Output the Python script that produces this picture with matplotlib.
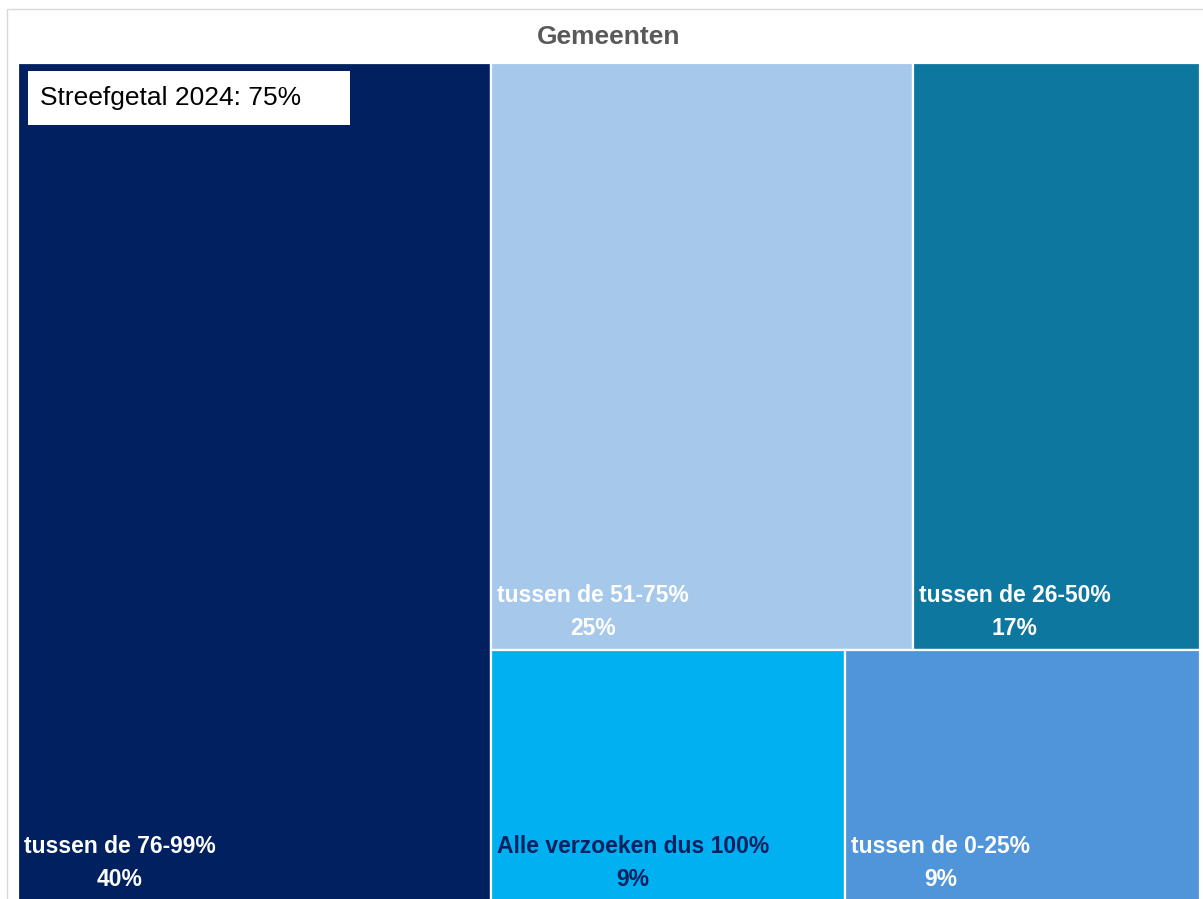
import matplotlib.pyplot as plt
from matplotlib.patches import Rectangle

# data
labels = ["tussen de 76-99%", "tussen de 51-75%", "tussen de 26-50%",
          "Alle verzoeken dus 100%", "tussen de 0-25%"]
shares = [40, 25, 17, 9, 9]
colors = ["#002060", "#A6C9EB", "#0E77A0", "#00B0F0", "#5095D9"]
text_colors = ["white", "white", "white", "#002060", "white"]
title = "Gemeenten"
note = "Streefgetal 2024: 75%"

font = ["Liberation Sans", "DejaVu Sans"]

fig = plt.figure(figsize=(12.03, 8.99), dpi=100)
ax = fig.add_axes([0, 0, 1, 1])
ax.set_xlim(0, 1203)
ax.set_ylim(899, 0)
ax.axis("off")

# chart border
ax.add_patch(Rectangle((7, 9), 1210, 900, fill=False, edgecolor="#d9d9d9", lw=1))

# treemap layout: first item as a column, the rest in rows of two
x0, y0, W, H = 18, 63, 1182, 838
total = sum(shares)
col_w = W * shares[0] / total
tiles = [(x0, y0, col_w, H)]
rest_w = W - col_w
rest_total = total - shares[0]
y = y0
for row in [[1, 2], [3, 4]]:
    row_sum = sum(shares[i] for i in row)
    row_h = H * row_sum / rest_total
    x = x0 + col_w
    for i in row:
        w = rest_w * shares[i] / row_sum
        tiles.append((x, y, w, row_h))
        x += w
    y += row_h

for (x, y, w, h), lab, s, c, tc in zip(tiles, labels, shares, colors, text_colors):
    ax.add_patch(Rectangle((x, y), w, h, facecolor=c, edgecolor="white", lw=1.6))
    ax.text(x + 6, y + h - 10, f"{lab}\n{s}%", ha="left", va="bottom",
            multialignment="center", fontsize=16.5, fontweight="bold",
            color=tc, family=font, linespacing=1.55)

ax.text(609, 37, title, ha="center", va="center", fontsize=19,
        fontweight="bold", color="#595959", family=font)

ax.add_patch(Rectangle((28, 71), 322, 54, facecolor="white", edgecolor="none"))
ax.text(40, 98, note, ha="left", va="center", fontsize=19, color="black",
        family=font)

fig.savefig("out.png", dpi=100)
